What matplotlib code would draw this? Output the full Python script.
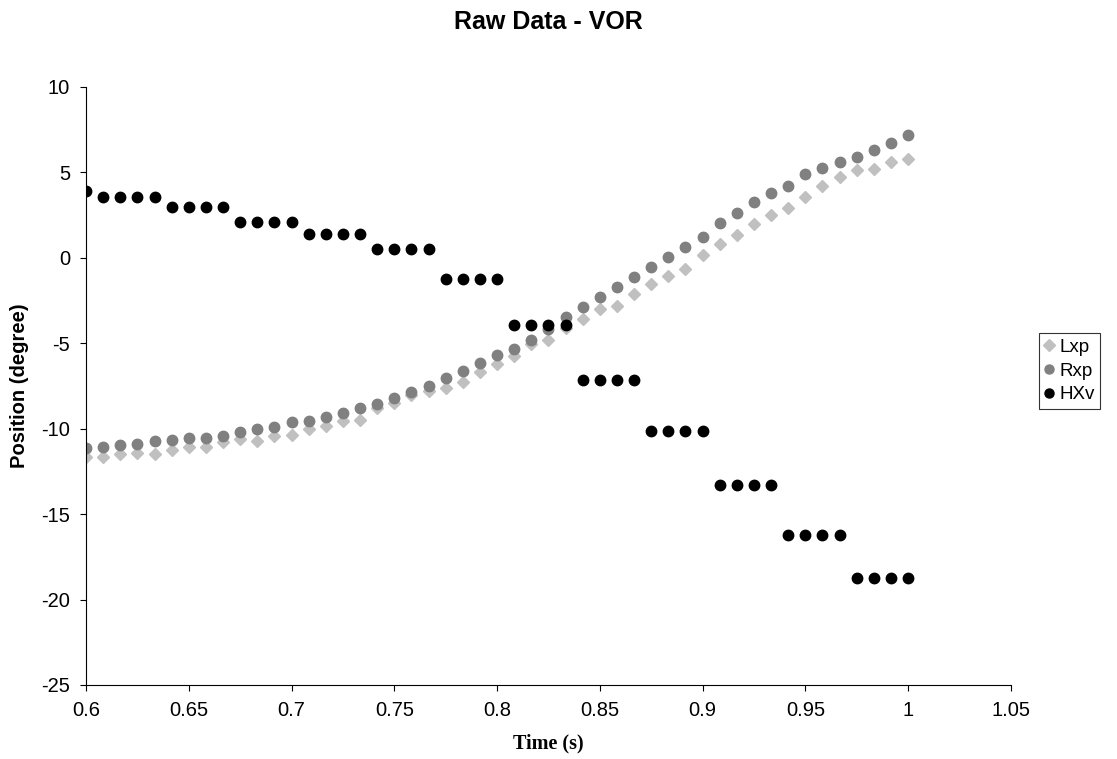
import matplotlib
matplotlib.use('Agg')
import matplotlib.pyplot as plt
import numpy as np

plt.rcParams['axes.unicode_minus'] = False

# sample times: 0.6 s to 1.0 s at 120 Hz
time_s = 0.6 + np.arange(49) / 120.0

lxp = [-11.64, -11.64, -11.50, -11.40, -11.50, -11.25, -11.09, -11.05, -10.80, -10.60,
       -10.70, -10.45, -10.35, -10.04, -9.82, -9.57, -9.49, -8.79, -8.50, -8.01,
       -7.78, -7.62, -7.29, -6.71, -6.22, -5.73, -5.05, -4.81, -4.11, -3.59,
       -3.02, -2.81, -2.12, -1.54, -1.05, -0.66, 0.19, 0.80, 1.35, 1.99,
       2.51, 2.94, 3.53, 4.21, 4.70, 5.13, 5.19, 5.61, 5.81]

rxp = [-11.15, -11.05, -10.94, -10.90, -10.74, -10.64, -10.57, -10.57, -10.41, -10.22,
       -10.02, -9.88, -9.61, -9.55, -9.34, -9.08, -8.81, -8.54, -8.19, -7.85,
       -7.49, -7.06, -6.63, -6.18, -5.67, -5.32, -4.80, -4.15, -3.44, -2.90,
       -2.32, -1.70, -1.14, -0.51, 0.05, 0.64, 1.19, 2.01, 2.63, 3.26,
       3.82, 4.21, 4.89, 5.28, 5.60, 5.91, 6.30, 6.74, 7.18]

hxv_levels = [3.55, 2.95, 2.08, 1.37, 0.53, -1.22, -3.93, -7.15, -10.13, -13.32, -16.22, -18.71]
hxv = [3.90] + [v for v in hxv_levels for _ in range(4)]

fig = plt.figure(figsize=(11.17, 7.59), dpi=100)
ax = fig.add_axes([0.077, 0.0975, 0.828, 0.788])

ax.plot(time_s, lxp, linestyle='none', marker='D', markersize=6.2,
        color='#C0C0C0', label='Lxp')
ax.plot(time_s, rxp, linestyle='none', marker='o', markersize=7.5,
        color='#808080', label='Rxp')
ax.plot(time_s, hxv, linestyle='none', marker='o', markersize=7.5,
        color='black', label='HXv')

ax.set_xlim(0.6, 1.05)
ax.set_ylim(-25, 10)
ax.set_xticks([0.6, 0.65, 0.7, 0.75, 0.8, 0.85, 0.9, 0.95, 1.0, 1.05])
ax.set_xticklabels(['0.6', '0.65', '0.7', '0.75', '0.8', '0.85', '0.9', '0.95', '1', '1.05'])
ax.set_yticks(range(-25, 11, 5))

ax.spines['top'].set_visible(False)
ax.spines['right'].set_visible(False)
for s in ['left', 'bottom']:
    ax.spines[s].set_linewidth(0.8)
    ax.spines[s].set_color('black')
ax.tick_params(direction='out', length=4.5, width=0.8, labelsize=14.5, pad=7)
for lab in ax.get_xticklabels() + ax.get_yticklabels():
    lab.set_family('Liberation Sans')

ax.set_title('Raw Data - VOR', family='Liberation Sans', fontweight='bold',
             fontsize=18, pad=42)
ax.set_ylabel('Position (degree)', family='Liberation Sans', fontweight='bold',
              fontsize=14.5, labelpad=9)
ax.set_xlabel('Time (s)', family='Liberation Serif', fontweight='bold',
              fontsize=14.5, labelpad=10)

leg = ax.legend(loc='center left', bbox_to_anchor=(1.03, 0.525), frameon=True,
                fancybox=False, edgecolor='black', handlelength=0.5,
                handletextpad=0.3, borderpad=0.3, borderaxespad=0,
                labelspacing=0.35,
                prop={'family': 'Liberation Sans', 'size': 13.5})
leg.get_frame().set_linewidth(0.8)
for h in leg.legend_handles:
    h.set_markersize(6.5)

fig.savefig('out.png', dpi=100)
